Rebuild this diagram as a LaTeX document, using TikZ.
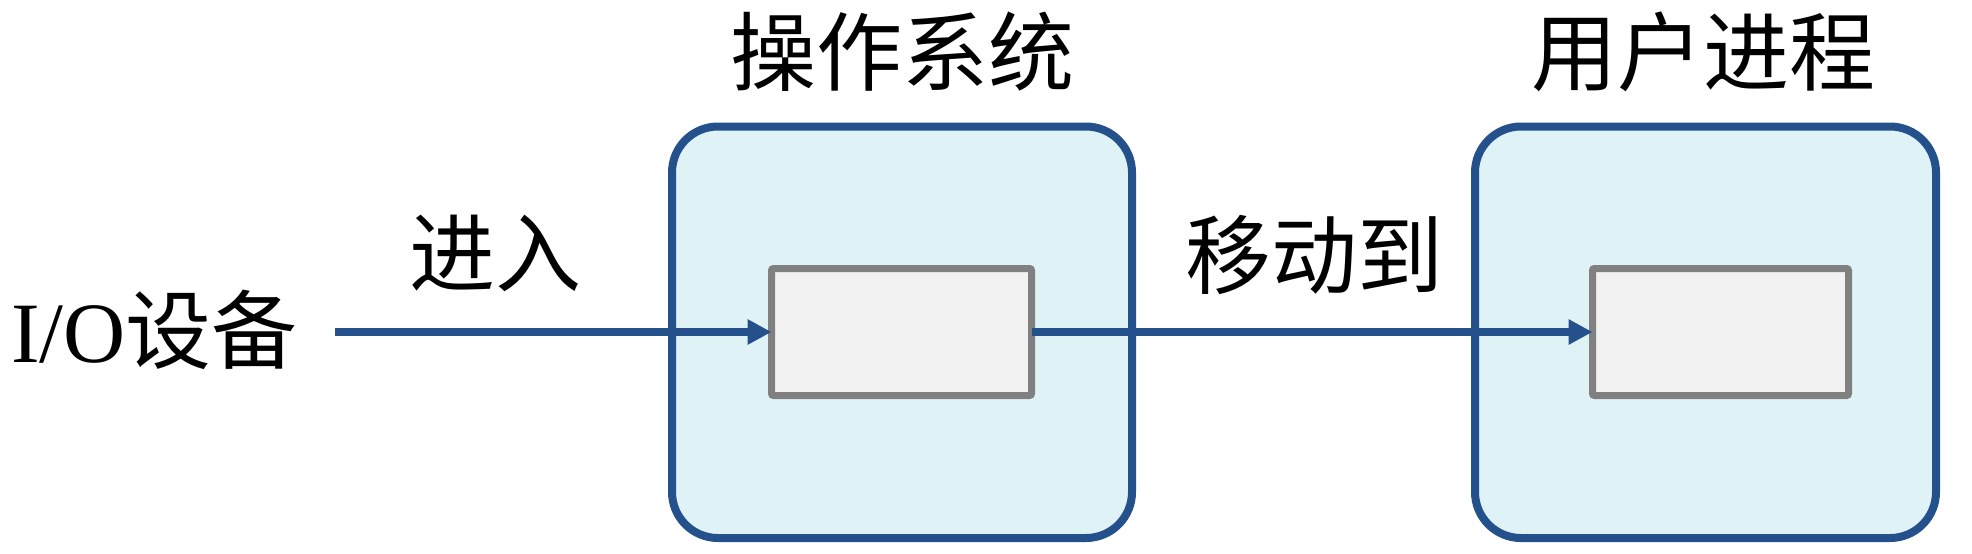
\documentclass[tikz,border=0pt]{standalone}
\usepackage{fontspec}
\setmainfont{Liberation Serif}
\newfontfamily\cjk{Noto Sans CJK SC}
\usetikzlibrary{arrows.meta}
\definecolor{bordblue}{HTML}{24508C}
\definecolor{fillblue}{HTML}{DFF2F6}
\definecolor{boxgray}{HTML}{808080}
\definecolor{boxfill}{HTML}{F2F2F2}
\tikzset{
  bigbox/.style={draw=bordblue, fill=fillblue, line width=4pt, rounded corners=23pt,
    rectangle, inner sep=0pt, outer sep=0pt, minimum height=205.75pt},
  innerbox/.style={draw=boxgray, fill=boxfill, line width=3.5pt, rounded corners=1pt,
    rectangle, inner sep=0pt, outer sep=0pt, minimum height=63.5pt},
  flow/.style={draw=bordblue, line width=4pt, -{Triangle[length=12pt,width=12pt]}},
  lbl/.style={font=\fontsize{43pt}{48pt}\selectfont, inner sep=0pt, text=black}
}
\begin{document}
\begin{tikzpicture}[x=0.5pt,y=-0.5pt]
\useasboundingbox[fill=white] (0,0) rectangle (1972,553);
\node[bigbox, minimum width=230pt] (os) at (902,332.25) {};
\node[bigbox, minimum width=230.5pt] (up) at (1705.5,332.25) {};
\node[innerbox, minimum width=130pt] (osbuf) at (901.5,332) {};
\node[innerbox, minimum width=128pt] (upbuf) at (1720.5,332) {};
\node[lbl] (dev) at (154.5,330) {I/O{\cjk 设备}};
\node[lbl] (in) at (495.5,253.5) {\cjk 进入};
\node[lbl] (mv) at (1314,255) {\cjk 移动到};
\node[lbl] (ostitle) at (902,51.5) {\cjk 操作系统};
\node[lbl] (uptitle) at (1703.5,51.5) {\cjk 用户进程};
\coordinate (start) at (335,332);
\draw[flow] (start) -- (osbuf.west);
\draw[flow] (osbuf.east) -- (upbuf.west);
\end{tikzpicture}
\end{document}
